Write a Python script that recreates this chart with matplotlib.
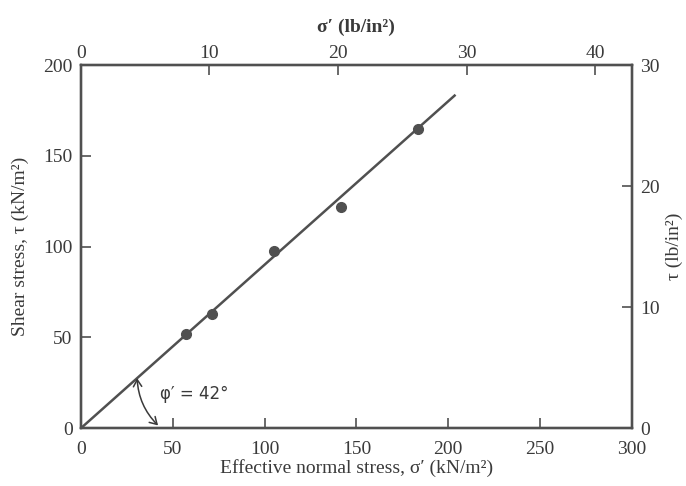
import numpy as np
import matplotlib
matplotlib.use("Agg")
import matplotlib.pyplot as plt
from matplotlib.patches import FancyArrowPatch

# ─── data ────────────────────────────────────────────────────────────────────
sigma_kn = [57, 71.5, 105, 141.5, 183.5]      # effective normal stress, kN/m2
tau_kn = [52, 63, 97.5, 122, 165]             # shear stress, kN/m2
phi_deg = 42
line_end = 204                                # envelope drawn up to this sigma

x_ticks = [0, 50, 100, 150, 200, 250, 300]
y_ticks = [0, 50, 100, 150, 200]
top_ticks = [0, 10, 20, 30, 40]
right_ticks = [0, 10, 20, 30]

INK = "#3a3a3a"
LINE = "#505050"
FS = 14

plt.rcParams["font.family"] = ["Liberation Serif", "DejaVu Serif"]

fig = plt.figure(figsize=(6.86, 4.86), dpi=100)
ax = fig.add_axes([0.118, 0.119, 0.803, 0.747])

# failure envelope through origin
xs = np.array([0, line_end])
ax.plot(xs, xs * np.tan(np.radians(phi_deg)), color=LINE, lw=1.8,
        solid_capstyle="butt", zorder=2)
ax.plot(sigma_kn, tau_kn, "o", color=LINE, ms=7, zorder=3)

ax.set_xlim(0, 300)
ax.set_ylim(0, 200)
ax.set_xticks(x_ticks)
ax.set_yticks(y_ticks)
ax.tick_params(direction="in", length=7, width=1.2, colors=LINE,
               labelcolor=INK, labelsize=FS)
ax.tick_params(axis="x", pad=9)
ax.tick_params(axis="y", pad=6)
for s in ax.spines.values():
    s.set_color(LINE)
    s.set_linewidth(1.6)

ax.set_xlabel("Effective normal stress, σ′ (kN/m²)", fontsize=FS,
              color=INK, labelpad=1)
ax.set_ylabel("Shear stress, τ (kN/m²)", fontsize=FS, color=INK, labelpad=10)

# top axis in lb/in2
top = ax.twiny()
top.set_xlim(0, 300 / 7.0)
top.set_xticks(top_ticks)
top.tick_params(direction="in", length=7, width=1.2, colors=LINE,
                labelcolor=INK, labelsize=FS, pad=2)
top.set_xlabel("σ′ (lb/in²)", fontsize=FS, color=INK, labelpad=10,
               fontweight="bold")

# right axis in lb/in2
right = ax.twinx()
right.set_ylim(0, 30)
right.set_yticks(right_ticks)
right.tick_params(direction="in", length=7, width=1.2, colors=LINE,
                  labelcolor=INK, labelsize=FS, pad=6)
right.set_ylabel("τ (lb/in²)", fontsize=FS, color=INK, rotation=90,
                 labelpad=4)
for a in (top, right):
    for s in a.spines.values():
        s.set_color(LINE)
        s.set_linewidth(1.6)

# friction angle arc
r = 42
p1 = (r * np.cos(np.radians(phi_deg)) * 0.98, r * np.sin(np.radians(phi_deg)) * 0.98)
p2 = (r, 1.5)
arc = FancyArrowPatch(p1, p2, arrowstyle="<->,head_length=5,head_width=3",
                      connectionstyle="arc3,rad=0.19", color=INK, lw=1.1,
                      shrinkA=0, shrinkB=0, zorder=4)
ax.add_patch(arc)
ax.text(43, 19, "φ′ = 42°", fontsize=12, color=INK, fontfamily="DejaVu Sans",
        va="center", ha="left")

fig.savefig("out.png", dpi=100, facecolor="white")
